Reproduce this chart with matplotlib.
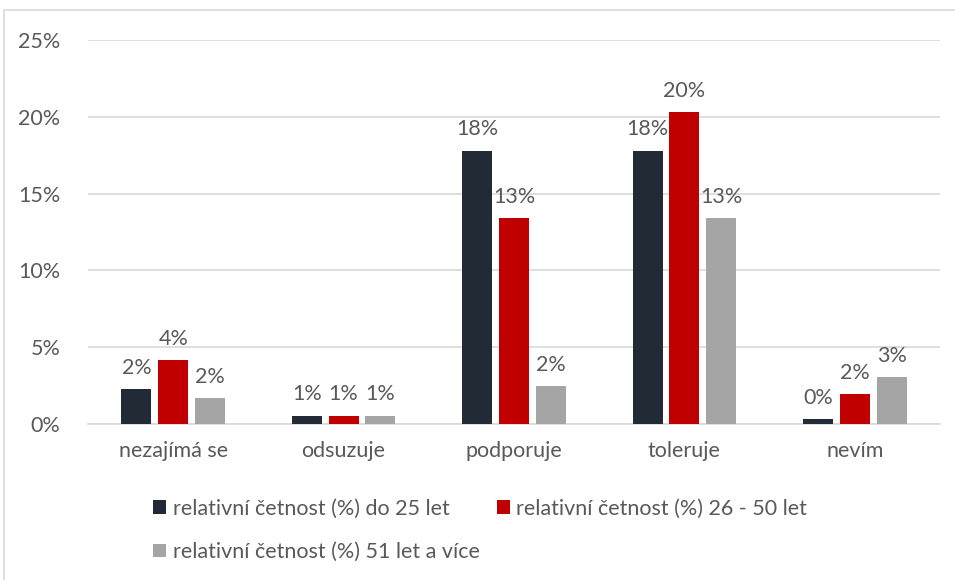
import numpy as np
import matplotlib.pyplot as plt
from matplotlib.patches import Rectangle
from matplotlib.ticker import FuncFormatter

categories = ["nezajímá se", "odsuzuje", "podporuje", "toleruje", "nevím"]
series_names = ["relativní četnost (%) do 25 let",
                "relativní četnost (%) 26 - 50 let",
                "relativní četnost (%) 51 let a více"]
do25 = [2.25, 0.55, 17.8, 17.8, 0.3]
od26do50 = [4.15, 0.55, 13.4, 20.3, 1.95]
nad51 = [1.7, 0.55, 2.45, 13.4, 3.05]
colors = ["#222A35", "#C00000", "#A5A5A5"]
txt = "#595959"
fs = 15.5

plt.rcParams['font.family'] = ['Lato', 'DejaVu Sans']

fig = plt.figure(figsize=(9.55, 5.8), dpi=100)
ax = fig.add_axes([88/955, 1-424/580, 852/955, 384/580])

# outer chart frame (only left/top edges show)
fig.patches.append(Rectangle((4/955, -0.1), 1.2, 0.1 + 1 - 10/580, transform=fig.transFigure,
                             fill=False, edgecolor="#D9D9D9", lw=1.2))

x = np.arange(len(categories))
w = 0.176
step = 0.216
handles = []
for i, (vals, c) in enumerate(zip([do25, od26do50, nad51], colors)):
    bars = ax.bar(x + (i - 1) * step, vals, w, color=c, label=series_names[i], zorder=3)
    handles.append(bars)
    for b, v in zip(bars, vals):
        ax.annotate(f"{round(v + 1e-9):.0f}%", (b.get_x() + b.get_width() / 2, v),
                    xytext=(0, 8), textcoords="offset points", ha="center", va="bottom",
                    fontsize=fs, color=txt)

ax.set_xlim(-0.5, len(categories) - 0.5)
ax.set_ylim(0, 25)
ax.set_yticks(range(0, 26, 5))
ax.yaxis.set_major_formatter(FuncFormatter(lambda v, p: f"{v:.0f}%"))
ax.set_xticks(x)
ax.set_xticklabels(categories)
ax.grid(axis="y", color="#D9D9D9", lw=1.2, zorder=0)
for s in ["top", "right", "left"]:
    ax.spines[s].set_visible(False)
ax.spines["bottom"].set_color("#D9D9D9")
ax.spines["bottom"].set_linewidth(1.2)
ax.tick_params(axis="both", length=0, labelsize=fs, colors=txt)
ax.tick_params(axis="x", pad=12)
ax.tick_params(axis="y", pad=20)

order = [0, 2, 1]
fig.legend([handles[k] for k in order], [series_names[k] for k in order],
           loc="upper left", bbox_to_anchor=(134/955, 1-479/580), ncol=2, frameon=False,
           fontsize=fs, labelcolor=txt, handlelength=0.6, handleheight=0.6,
           handletextpad=0.3, columnspacing=0.8, labelspacing=1.1)

fig.savefig("out.png", dpi=100)
